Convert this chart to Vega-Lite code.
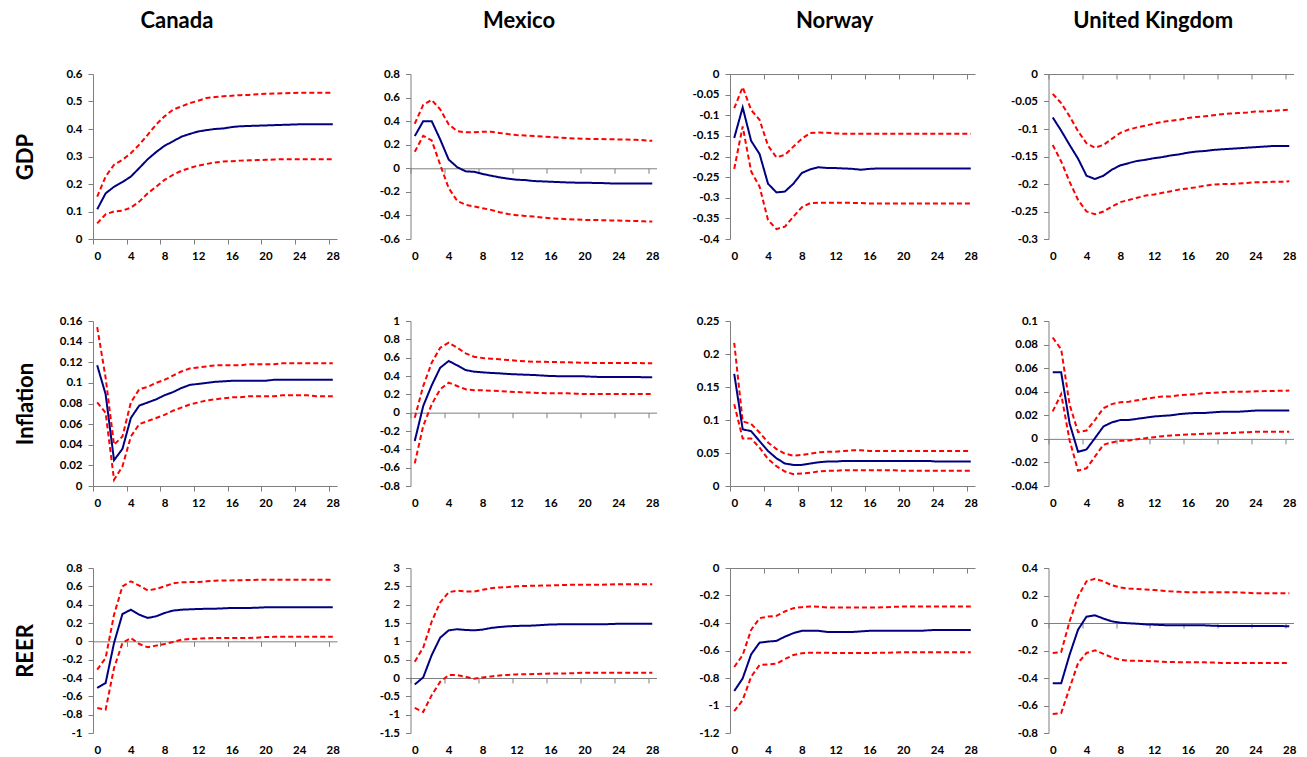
{
"$schema": "https://vega.github.io/schema/vega-lite/v6.json",
"padding": {"left": 14, "top": 10, "right": 5, "bottom": 3},
"background": "white",
"columns": 4,
"bounds": "flush",
"align": "each",
"spacing": {"row": 82, "column": 73.5},
"config": {
 "view": {"stroke": null},
 "axis": {"grid": false, "domainColor": "#7f7f7f", "tickColor": "#7f7f7f", "tickSize": 5, "domainWidth": 1, "tickWidth": 1, "labelFont": "Lato", "labelFontWeight": "bold", "labelFontSize": 11.5, "labelColor": "#000000", "labelOverlap": false, "titleFont": "Lato", "titleFontWeight": "bold", "titleFontSize": 22, "titleColor": "#000000"},
 "axisX": {"labelFlush": false},
 "axisY": {"labelPadding": 6},
 "title": {"font": "Lato", "fontSize": 22, "fontWeight": "bold", "color": "#000000", "anchor": "middle", "frame": "bounds", "baseline": "alphabetic", "offset": 35}
},
"datasets": {
"CA_G": [
{"h":0,"irf":0.108,"lo":0.057,"hi":0.154},{"h":1,"irf":0.166,"lo":0.09,"hi":0.227},{"h":2,"irf":0.19,"lo":0.1,"hi":0.27},{"h":3,"irf":0.207,"lo":0.103,"hi":0.288},{"h":4,"irf":0.227,"lo":0.114,"hi":0.312},{"h":5,"irf":0.258,"lo":0.136,"hi":0.343},{"h":6,"irf":0.29,"lo":0.166,"hi":0.379},{"h":7,"irf":0.316,"lo":0.19,"hi":0.416},{"h":8,"irf":0.339,"lo":0.215,"hi":0.446},{"h":9,"irf":0.355,"lo":0.233,"hi":0.47},{"h":10,"irf":0.372,"lo":0.248,"hi":0.482},{"h":11,"irf":0.382,"lo":0.258,"hi":0.494},{"h":12,"irf":0.391,"lo":0.267,"hi":0.503},{"h":13,"irf":0.396,"lo":0.273,"hi":0.513},{"h":14,"irf":0.4,"lo":0.278,"hi":0.516},{"h":15,"irf":0.402,"lo":0.282,"hi":0.519},{"h":16,"irf":0.407,"lo":0.283,"hi":0.521},{"h":17,"irf":0.41,"lo":0.285,"hi":0.523},{"h":18,"irf":0.411,"lo":0.286,"hi":0.524},{"h":19,"irf":0.412,"lo":0.287,"hi":0.526},{"h":20,"irf":0.413,"lo":0.288,"hi":0.528},{"h":21,"irf":0.414,"lo":0.289,"hi":0.529},{"h":22,"irf":0.415,"lo":0.29,"hi":0.53},{"h":23,"irf":0.416,"lo":0.29,"hi":0.531},{"h":24,"irf":0.417,"lo":0.29,"hi":0.532},{"h":25,"irf":0.417,"lo":0.29,"hi":0.532},{"h":26,"irf":0.417,"lo":0.29,"hi":0.532},{"h":27,"irf":0.417,"lo":0.29,"hi":0.532},{"h":28,"irf":0.417,"lo":0.29,"hi":0.532}],
"MX_G": [
{"h":0,"irf":0.273,"lo":0.14,"hi":0.378},{"h":1,"irf":0.4,"lo":0.276,"hi":0.538},{"h":2,"irf":0.4,"lo":0.236,"hi":0.58},{"h":3,"irf":0.245,"lo":0.03,"hi":0.5},{"h":4,"irf":0.074,"lo":-0.168,"hi":0.373},{"h":5,"irf":0.01,"lo":-0.276,"hi":0.316},{"h":6,"irf":-0.026,"lo":-0.31,"hi":0.305},{"h":7,"irf":-0.03,"lo":-0.324,"hi":0.305},{"h":8,"irf":-0.048,"lo":-0.339,"hi":0.31},{"h":9,"irf":-0.063,"lo":-0.353,"hi":0.31},{"h":10,"irf":-0.077,"lo":-0.373,"hi":0.3},{"h":11,"irf":-0.088,"lo":-0.387,"hi":0.29},{"h":12,"irf":-0.097,"lo":-0.398,"hi":0.282},{"h":13,"irf":-0.1,"lo":-0.404,"hi":0.278},{"h":14,"irf":-0.108,"lo":-0.41,"hi":0.273},{"h":15,"irf":-0.111,"lo":-0.417,"hi":0.269},{"h":16,"irf":-0.114,"lo":-0.424,"hi":0.265},{"h":17,"irf":-0.117,"lo":-0.428,"hi":0.26},{"h":18,"irf":-0.12,"lo":-0.432,"hi":0.256},{"h":19,"irf":-0.122,"lo":-0.435,"hi":0.253},{"h":20,"irf":-0.122,"lo":-0.438,"hi":0.25},{"h":21,"irf":-0.124,"lo":-0.439,"hi":0.249},{"h":22,"irf":-0.125,"lo":-0.44,"hi":0.248},{"h":23,"irf":-0.128,"lo":-0.442,"hi":0.246},{"h":24,"irf":-0.13,"lo":-0.444,"hi":0.245},{"h":25,"irf":-0.13,"lo":-0.446,"hi":0.244},{"h":26,"irf":-0.13,"lo":-0.447,"hi":0.242},{"h":27,"irf":-0.13,"lo":-0.45,"hi":0.238},{"h":28,"irf":-0.13,"lo":-0.452,"hi":0.233}],
"NO_G": [
{"h":0,"irf":-0.155,"lo":-0.23,"hi":-0.083},{"h":1,"irf":-0.081,"lo":-0.127,"hi":-0.032},{"h":2,"irf":-0.162,"lo":-0.236,"hi":-0.087},{"h":3,"irf":-0.194,"lo":-0.273,"hi":-0.111},{"h":4,"irf":-0.266,"lo":-0.354,"hi":-0.174},{"h":5,"irf":-0.287,"lo":-0.376,"hi":-0.202},{"h":6,"irf":-0.285,"lo":-0.37,"hi":-0.196},{"h":7,"irf":-0.266,"lo":-0.346,"hi":-0.176},{"h":8,"irf":-0.24,"lo":-0.323,"hi":-0.157},{"h":9,"irf":-0.231,"lo":-0.313,"hi":-0.143},{"h":10,"irf":-0.226,"lo":-0.312,"hi":-0.142},{"h":11,"irf":-0.228,"lo":-0.312,"hi":-0.1425},{"h":12,"irf":-0.228,"lo":-0.312,"hi":-0.144},{"h":13,"irf":-0.229,"lo":-0.312,"hi":-0.145},{"h":14,"irf":-0.23,"lo":-0.3125,"hi":-0.145},{"h":15,"irf":-0.232,"lo":-0.313,"hi":-0.145},{"h":16,"irf":-0.23,"lo":-0.314,"hi":-0.145},{"h":17,"irf":-0.229,"lo":-0.314,"hi":-0.145},{"h":18,"irf":-0.229,"lo":-0.314,"hi":-0.145},{"h":19,"irf":-0.229,"lo":-0.314,"hi":-0.145},{"h":20,"irf":-0.229,"lo":-0.314,"hi":-0.145},{"h":21,"irf":-0.229,"lo":-0.314,"hi":-0.145},{"h":22,"irf":-0.229,"lo":-0.314,"hi":-0.145},{"h":23,"irf":-0.229,"lo":-0.314,"hi":-0.145},{"h":24,"irf":-0.229,"lo":-0.314,"hi":-0.145},{"h":25,"irf":-0.229,"lo":-0.314,"hi":-0.145},{"h":26,"irf":-0.229,"lo":-0.314,"hi":-0.145},{"h":27,"irf":-0.229,"lo":-0.314,"hi":-0.145},{"h":28,"irf":-0.229,"lo":-0.314,"hi":-0.145}],
"UK_G": [
{"h":0,"irf":-0.079,"lo":-0.129,"hi":-0.036},{"h":1,"irf":-0.103,"lo":-0.159,"hi":-0.053},{"h":2,"irf":-0.129,"lo":-0.196,"hi":-0.077},{"h":3,"irf":-0.154,"lo":-0.229,"hi":-0.104},{"h":4,"irf":-0.185,"lo":-0.25,"hi":-0.126},{"h":5,"irf":-0.191,"lo":-0.255,"hi":-0.134},{"h":6,"irf":-0.185,"lo":-0.25,"hi":-0.129},{"h":7,"irf":-0.174,"lo":-0.241,"hi":-0.118},{"h":8,"irf":-0.166,"lo":-0.233,"hi":-0.107},{"h":9,"irf":-0.162,"lo":-0.229,"hi":-0.101},{"h":10,"irf":-0.158,"lo":-0.225,"hi":-0.097},{"h":11,"irf":-0.156,"lo":-0.221,"hi":-0.094},{"h":12,"irf":-0.153,"lo":-0.219,"hi":-0.09},{"h":13,"irf":-0.151,"lo":-0.216,"hi":-0.087},{"h":14,"irf":-0.148,"lo":-0.213,"hi":-0.085},{"h":15,"irf":-0.146,"lo":-0.21,"hi":-0.083},{"h":16,"irf":-0.143,"lo":-0.208,"hi":-0.08},{"h":17,"irf":-0.141,"lo":-0.206,"hi":-0.078},{"h":18,"irf":-0.14,"lo":-0.203,"hi":-0.077},{"h":19,"irf":-0.138,"lo":-0.201,"hi":-0.075},{"h":20,"irf":-0.137,"lo":-0.2,"hi":-0.073},{"h":21,"irf":-0.136,"lo":-0.2,"hi":-0.072},{"h":22,"irf":-0.135,"lo":-0.199,"hi":-0.071},{"h":23,"irf":-0.134,"lo":-0.198,"hi":-0.07},{"h":24,"irf":-0.133,"lo":-0.197,"hi":-0.068},{"h":25,"irf":-0.132,"lo":-0.197,"hi":-0.068},{"h":26,"irf":-0.131,"lo":-0.196,"hi":-0.067},{"h":27,"irf":-0.131,"lo":-0.196,"hi":-0.066},{"h":28,"irf":-0.131,"lo":-0.195,"hi":-0.065}],
"CA_I": [
{"h":0,"irf":0.117,"lo":0.081,"hi":0.154},{"h":1,"irf":0.089,"lo":0.071,"hi":0.105},{"h":2,"irf":0.025,"lo":0.006,"hi":0.04},{"h":3,"irf":0.036,"lo":0.019,"hi":0.048},{"h":4,"irf":0.066,"lo":0.048,"hi":0.081},{"h":5,"irf":0.078,"lo":0.06,"hi":0.094},{"h":6,"irf":0.081,"lo":0.063,"hi":0.096},{"h":7,"irf":0.084,"lo":0.066,"hi":0.1},{"h":8,"irf":0.088,"lo":0.069,"hi":0.103},{"h":9,"irf":0.091,"lo":0.073,"hi":0.107},{"h":10,"irf":0.095,"lo":0.076,"hi":0.111},{"h":11,"irf":0.098,"lo":0.079,"hi":0.114},{"h":12,"irf":0.099,"lo":0.081,"hi":0.115},{"h":13,"irf":0.1,"lo":0.083,"hi":0.116},{"h":14,"irf":0.101,"lo":0.084,"hi":0.117},{"h":15,"irf":0.1015,"lo":0.085,"hi":0.117},{"h":16,"irf":0.102,"lo":0.086,"hi":0.117},{"h":17,"irf":0.102,"lo":0.086,"hi":0.117},{"h":18,"irf":0.102,"lo":0.087,"hi":0.118},{"h":19,"irf":0.102,"lo":0.087,"hi":0.118},{"h":20,"irf":0.102,"lo":0.087,"hi":0.118},{"h":21,"irf":0.103,"lo":0.087,"hi":0.118},{"h":22,"irf":0.103,"lo":0.088,"hi":0.119},{"h":23,"irf":0.103,"lo":0.088,"hi":0.119},{"h":24,"irf":0.103,"lo":0.088,"hi":0.119},{"h":25,"irf":0.103,"lo":0.088,"hi":0.119},{"h":26,"irf":0.103,"lo":0.087,"hi":0.119},{"h":27,"irf":0.103,"lo":0.087,"hi":0.119},{"h":28,"irf":0.103,"lo":0.087,"hi":0.119}],
"MX_I": [
{"h":0,"irf":-0.309,"lo":-0.553,"hi":-0.055},{"h":1,"irf":0.073,"lo":-0.145,"hi":0.29},{"h":2,"irf":0.298,"lo":0.091,"hi":0.545},{"h":3,"irf":0.49,"lo":0.255,"hi":0.709},{"h":4,"irf":0.564,"lo":0.327,"hi":0.764},{"h":5,"irf":0.516,"lo":0.291,"hi":0.709},{"h":6,"irf":0.465,"lo":0.255,"hi":0.647},{"h":7,"irf":0.447,"lo":0.244,"hi":0.611},{"h":8,"irf":0.44,"lo":0.244,"hi":0.596},{"h":9,"irf":0.433,"lo":0.24,"hi":0.589},{"h":10,"irf":0.429,"lo":0.236,"hi":0.582},{"h":11,"irf":0.422,"lo":0.23,"hi":0.575},{"h":12,"irf":0.418,"lo":0.225,"hi":0.567},{"h":13,"irf":0.414,"lo":0.22,"hi":0.56},{"h":14,"irf":0.411,"lo":0.218,"hi":0.556},{"h":15,"irf":0.405,"lo":0.214,"hi":0.555},{"h":16,"irf":0.4,"lo":0.211,"hi":0.553},{"h":17,"irf":0.398,"lo":0.211,"hi":0.551},{"h":18,"irf":0.396,"lo":0.211,"hi":0.549},{"h":19,"irf":0.396,"lo":0.207,"hi":0.547},{"h":20,"irf":0.396,"lo":0.204,"hi":0.545},{"h":21,"irf":0.392,"lo":0.204,"hi":0.543},{"h":22,"irf":0.389,"lo":0.204,"hi":0.542},{"h":23,"irf":0.389,"lo":0.204,"hi":0.542},{"h":24,"irf":0.389,"lo":0.204,"hi":0.542},{"h":25,"irf":0.389,"lo":0.204,"hi":0.542},{"h":26,"irf":0.389,"lo":0.204,"hi":0.542},{"h":27,"irf":0.387,"lo":0.204,"hi":0.54},{"h":28,"irf":0.385,"lo":0.204,"hi":0.538}],
"NO_I": [
{"h":0,"irf":0.17,"lo":0.124,"hi":0.217},{"h":1,"irf":0.086,"lo":0.072,"hi":0.098},{"h":2,"irf":0.083,"lo":0.072,"hi":0.094},{"h":3,"irf":0.068,"lo":0.058,"hi":0.081},{"h":4,"irf":0.053,"lo":0.041,"hi":0.066},{"h":5,"irf":0.042,"lo":0.03,"hi":0.056},{"h":6,"irf":0.034,"lo":0.022,"hi":0.049},{"h":7,"irf":0.032,"lo":0.018,"hi":0.046},{"h":8,"irf":0.032,"lo":0.019,"hi":0.047},{"h":9,"irf":0.034,"lo":0.02,"hi":0.049},{"h":10,"irf":0.036,"lo":0.022,"hi":0.051},{"h":11,"irf":0.037,"lo":0.023,"hi":0.052},{"h":12,"irf":0.037,"lo":0.023,"hi":0.052},{"h":13,"irf":0.038,"lo":0.024,"hi":0.053},{"h":14,"irf":0.038,"lo":0.024,"hi":0.054},{"h":15,"irf":0.038,"lo":0.024,"hi":0.054},{"h":16,"irf":0.038,"lo":0.024,"hi":0.053},{"h":17,"irf":0.038,"lo":0.024,"hi":0.053},{"h":18,"irf":0.038,"lo":0.024,"hi":0.053},{"h":19,"irf":0.038,"lo":0.024,"hi":0.053},{"h":20,"irf":0.038,"lo":0.023,"hi":0.053},{"h":21,"irf":0.038,"lo":0.023,"hi":0.053},{"h":22,"irf":0.038,"lo":0.023,"hi":0.053},{"h":23,"irf":0.038,"lo":0.023,"hi":0.053},{"h":24,"irf":0.037,"lo":0.023,"hi":0.053},{"h":25,"irf":0.037,"lo":0.023,"hi":0.053},{"h":26,"irf":0.037,"lo":0.023,"hi":0.053},{"h":27,"irf":0.037,"lo":0.023,"hi":0.053},{"h":28,"irf":0.037,"lo":0.023,"hi":0.053}],
"UK_I": [
{"h":0,"irf":0.0565,"lo":0.0233,"hi":0.086},{"h":1,"irf":0.0565,"lo":0.038,"hi":0.076},{"h":2,"irf":0.013,"lo":-0.0014,"hi":0.029},{"h":3,"irf":-0.011,"lo":-0.027,"hi":0.0057},{"h":4,"irf":-0.009,"lo":-0.025,"hi":0.007},{"h":5,"irf":0.0006,"lo":-0.015,"hi":0.016},{"h":6,"irf":0.0105,"lo":-0.005,"hi":0.026},{"h":7,"irf":0.014,"lo":-0.003,"hi":0.0295},{"h":8,"irf":0.016,"lo":-0.0017,"hi":0.031},{"h":9,"irf":0.016,"lo":-0.0014,"hi":0.0315},{"h":10,"irf":0.017,"lo":-0.0003,"hi":0.0327},{"h":11,"irf":0.018,"lo":0.0006,"hi":0.034},{"h":12,"irf":0.019,"lo":0.0014,"hi":0.035},{"h":13,"irf":0.0195,"lo":0.0023,"hi":0.036},{"h":14,"irf":0.02,"lo":0.0028,"hi":0.036},{"h":15,"irf":0.021,"lo":0.0033,"hi":0.037},{"h":16,"irf":0.0216,"lo":0.0037,"hi":0.0375},{"h":17,"irf":0.022,"lo":0.004,"hi":0.038},{"h":18,"irf":0.022,"lo":0.0043,"hi":0.039},{"h":19,"irf":0.0225,"lo":0.0045,"hi":0.039},{"h":20,"irf":0.023,"lo":0.0048,"hi":0.0395},{"h":21,"irf":0.023,"lo":0.005,"hi":0.04},{"h":22,"irf":0.023,"lo":0.0054,"hi":0.04},{"h":23,"irf":0.0235,"lo":0.0057,"hi":0.04},{"h":24,"irf":0.024,"lo":0.006,"hi":0.0403},{"h":25,"irf":0.024,"lo":0.006,"hi":0.0405},{"h":26,"irf":0.024,"lo":0.006,"hi":0.0406},{"h":27,"irf":0.024,"lo":0.006,"hi":0.0408},{"h":28,"irf":0.024,"lo":0.006,"hi":0.041}],
"CA_R": [
{"h":0,"irf":-0.509,"lo":-0.727,"hi":-0.309},{"h":1,"irf":-0.455,"lo":-0.745,"hi":-0.182},{"h":2,"irf":-0.018,"lo":-0.291,"hi":0.291},{"h":3,"irf":0.298,"lo":-0.018,"hi":0.6},{"h":4,"irf":0.345,"lo":0.036,"hi":0.655},{"h":5,"irf":0.291,"lo":-0.029,"hi":0.607},{"h":6,"irf":0.255,"lo":-0.065,"hi":0.556},{"h":7,"irf":0.273,"lo":-0.047,"hi":0.571},{"h":8,"irf":0.309,"lo":-0.029,"hi":0.6},{"h":9,"irf":0.335,"lo":-0.007,"hi":0.633},{"h":10,"irf":0.345,"lo":0.018,"hi":0.644},{"h":11,"irf":0.349,"lo":0.025,"hi":0.647},{"h":12,"irf":0.353,"lo":0.029,"hi":0.647},{"h":13,"irf":0.355,"lo":0.033,"hi":0.655},{"h":14,"irf":0.356,"lo":0.036,"hi":0.662},{"h":15,"irf":0.36,"lo":0.036,"hi":0.664},{"h":16,"irf":0.364,"lo":0.036,"hi":0.665},{"h":17,"irf":0.364,"lo":0.036,"hi":0.667},{"h":18,"irf":0.364,"lo":0.036,"hi":0.669},{"h":19,"irf":0.367,"lo":0.04,"hi":0.671},{"h":20,"irf":0.371,"lo":0.047,"hi":0.673},{"h":21,"irf":0.371,"lo":0.049,"hi":0.673},{"h":22,"irf":0.371,"lo":0.051,"hi":0.673},{"h":23,"irf":0.371,"lo":0.051,"hi":0.673},{"h":24,"irf":0.371,"lo":0.051,"hi":0.673},{"h":25,"irf":0.371,"lo":0.051,"hi":0.673},{"h":26,"irf":0.371,"lo":0.051,"hi":0.673},{"h":27,"irf":0.371,"lo":0.051,"hi":0.673},{"h":28,"irf":0.371,"lo":0.051,"hi":0.673}],
"MX_R": [
{"h":0,"irf":-0.176,"lo":-0.815,"hi":0.444},{"h":1,"irf":0.016,"lo":-0.925,"hi":0.83},{"h":2,"irf":0.625,"lo":-0.468,"hi":1.54},{"h":3,"irf":1.1,"lo":-0.103,"hi":2.06},{"h":4,"irf":1.3,"lo":0.079,"hi":2.34},{"h":5,"irf":1.33,"lo":0.079,"hi":2.38},{"h":6,"irf":1.31,"lo":0.034,"hi":2.36},{"h":7,"irf":1.3,"lo":-0.021,"hi":2.36},{"h":8,"irf":1.32,"lo":0.016,"hi":2.405},{"h":9,"irf":1.365,"lo":0.043,"hi":2.45},{"h":10,"irf":1.39,"lo":0.07,"hi":2.47},{"h":11,"irf":1.41,"lo":0.085,"hi":2.48},{"h":12,"irf":1.42,"lo":0.098,"hi":2.5},{"h":13,"irf":1.425,"lo":0.103,"hi":2.51},{"h":14,"irf":1.43,"lo":0.107,"hi":2.515},{"h":15,"irf":1.445,"lo":0.115,"hi":2.52},{"h":16,"irf":1.46,"lo":0.125,"hi":2.525},{"h":17,"irf":1.463,"lo":0.125,"hi":2.53},{"h":18,"irf":1.466,"lo":0.125,"hi":2.54},{"h":19,"irf":1.466,"lo":0.134,"hi":2.54},{"h":20,"irf":1.466,"lo":0.143,"hi":2.54},{"h":21,"irf":1.466,"lo":0.143,"hi":2.54},{"h":22,"irf":1.466,"lo":0.143,"hi":2.54},{"h":23,"irf":1.47,"lo":0.143,"hi":2.55},{"h":24,"irf":1.48,"lo":0.143,"hi":2.56},{"h":25,"irf":1.48,"lo":0.143,"hi":2.56},{"h":26,"irf":1.48,"lo":0.143,"hi":2.56},{"h":27,"irf":1.48,"lo":0.143,"hi":2.56},{"h":28,"irf":1.48,"lo":0.143,"hi":2.56}],
"NO_R": [
{"h":0,"irf":-0.895,"lo":-1.041,"hi":-0.72},{"h":1,"irf":-0.803,"lo":-0.961,"hi":-0.633},{"h":2,"irf":-0.628,"lo":-0.791,"hi":-0.45},{"h":3,"irf":-0.543,"lo":-0.706,"hi":-0.365},{"h":4,"irf":-0.535,"lo":-0.701,"hi":-0.353},{"h":5,"irf":-0.53,"lo":-0.696,"hi":-0.348},{"h":6,"irf":-0.499,"lo":-0.662,"hi":-0.316},{"h":7,"irf":-0.474,"lo":-0.633,"hi":-0.292},{"h":8,"irf":-0.457,"lo":-0.62,"hi":-0.285},{"h":9,"irf":-0.457,"lo":-0.616,"hi":-0.28},{"h":10,"irf":-0.457,"lo":-0.616,"hi":-0.282},{"h":11,"irf":-0.465,"lo":-0.617,"hi":-0.287},{"h":12,"irf":-0.465,"lo":-0.618,"hi":-0.287},{"h":13,"irf":-0.465,"lo":-0.618,"hi":-0.287},{"h":14,"irf":-0.465,"lo":-0.618,"hi":-0.287},{"h":15,"irf":-0.461,"lo":-0.618,"hi":-0.287},{"h":16,"irf":-0.457,"lo":-0.618,"hi":-0.287},{"h":17,"irf":-0.457,"lo":-0.617,"hi":-0.287},{"h":18,"irf":-0.457,"lo":-0.616,"hi":-0.285},{"h":19,"irf":-0.457,"lo":-0.614,"hi":-0.282},{"h":20,"irf":-0.457,"lo":-0.613,"hi":-0.28},{"h":21,"irf":-0.457,"lo":-0.613,"hi":-0.28},{"h":22,"irf":-0.457,"lo":-0.613,"hi":-0.28},{"h":23,"irf":-0.453,"lo":-0.613,"hi":-0.28},{"h":24,"irf":-0.45,"lo":-0.613,"hi":-0.28},{"h":25,"irf":-0.45,"lo":-0.613,"hi":-0.28},{"h":26,"irf":-0.45,"lo":-0.613,"hi":-0.28},{"h":27,"irf":-0.45,"lo":-0.613,"hi":-0.28},{"h":28,"irf":-0.45,"lo":-0.613,"hi":-0.28}],
"UK_R": [
{"h":0,"irf":-0.439,"lo":-0.662,"hi":-0.218},{"h":1,"irf":-0.439,"lo":-0.655,"hi":-0.211},{"h":2,"irf":-0.23,"lo":-0.473,"hi":0.012},{"h":3,"irf":-0.048,"lo":-0.291,"hi":0.194},{"h":4,"irf":0.046,"lo":-0.218,"hi":0.303},{"h":5,"irf":0.056,"lo":-0.199,"hi":0.322},{"h":6,"irf":0.032,"lo":-0.225,"hi":0.303},{"h":7,"irf":0.012,"lo":-0.25,"hi":0.274},{"h":8,"irf":0.002,"lo":-0.267,"hi":0.259},{"h":9,"irf":-0.002,"lo":-0.274,"hi":0.25},{"h":10,"irf":-0.005,"lo":-0.274,"hi":0.247},{"h":11,"irf":-0.01,"lo":-0.277,"hi":0.244},{"h":12,"irf":-0.012,"lo":-0.279,"hi":0.24},{"h":13,"irf":-0.015,"lo":-0.282,"hi":0.235},{"h":14,"irf":-0.017,"lo":-0.284,"hi":0.23},{"h":15,"irf":-0.017,"lo":-0.285,"hi":0.227},{"h":16,"irf":-0.017,"lo":-0.286,"hi":0.223},{"h":17,"irf":-0.017,"lo":-0.286,"hi":0.223},{"h":18,"irf":-0.017,"lo":-0.286,"hi":0.223},{"h":19,"irf":-0.02,"lo":-0.288,"hi":0.223},{"h":20,"irf":-0.022,"lo":-0.291,"hi":0.223},{"h":21,"irf":-0.022,"lo":-0.291,"hi":0.223},{"h":22,"irf":-0.022,"lo":-0.291,"hi":0.223},{"h":23,"irf":-0.022,"lo":-0.291,"hi":0.22},{"h":24,"irf":-0.022,"lo":-0.291,"hi":0.216},{"h":25,"irf":-0.022,"lo":-0.291,"hi":0.216},{"h":26,"irf":-0.022,"lo":-0.291,"hi":0.216},{"h":27,"irf":-0.022,"lo":-0.291,"hi":0.216},{"h":28,"irf":-0.024,"lo":-0.291,"hi":0.216}]
},
"concat": [
{"width": 244, "height": 165, "data": {"name": "CA_G"}, "title": {"text": "Canada"},
 "transform": [{"fold": ["hi","lo","irf"], "as": ["series","val"]}],
 "mark": {"type": "line", "strokeWidth": 2},
 "encoding": {
  "x": {"field": "h", "type": "quantitative", "title": null, "scale": {"domain": [-0.5, 28.5], "nice": false, "zero": false}, "axis": {"values": [0,4,8,12,16,20,24,28], "tickOffset": -4.207, "labelOffset": 4.207, "offset": 0, "labelPadding": 6}},
  "y": {"field": "val", "type": "quantitative", "scale": {"domain": [0, 0.6], "nice": false, "zero": false}, "axis": {"values": [0,0.1,0.2,0.3,0.4,0.5,0.6], "labelExpr": "'' + datum.value", "title": "GDP", "titleX": -67.7, "titleY": 82.5, "titleAngle": 270, "titleAlign": "center", "titleBaseline": "middle"}},
  "color": {"field": "series", "type": "nominal", "scale": {"domain": ["hi","lo","irf"], "range": ["#FF0000","#FF0000","#000080"]}, "legend": null},
  "strokeDash": {"field": "series", "type": "nominal", "scale": {"domain": ["hi","lo","irf"], "range": [[5,3],[5,3],[1,0]]}, "legend": null}
 }},
{"width": 246, "height": 165, "data": {"name": "MX_G"}, "title": {"text": "Mexico"},
 "transform": [{"fold": ["hi","lo","irf"], "as": ["series","val"]}],
 "mark": {"type": "line", "strokeWidth": 2},
 "encoding": {
  "x": {"field": "h", "type": "quantitative", "title": null, "scale": {"domain": [-0.5, 28.5], "nice": false, "zero": false}, "axis": {"values": [0,4,8,12,16,20,24,28], "tickOffset": -4.241, "labelOffset": 4.241, "offset": -70.71, "labelPadding": 76.71}},
  "y": {"field": "val", "type": "quantitative", "title": null, "scale": {"domain": [-0.6, 0.8], "nice": false, "zero": false}, "axis": {"values": [-0.6,-0.4,-0.2,0,0.2,0.4,0.6,0.8], "labelExpr": "'' + datum.value"}},
  "color": {"field": "series", "type": "nominal", "scale": {"domain": ["hi","lo","irf"], "range": ["#FF0000","#FF0000","#000080"]}, "legend": null},
  "strokeDash": {"field": "series", "type": "nominal", "scale": {"domain": ["hi","lo","irf"], "range": [[5,3],[5,3],[1,0]]}, "legend": null}
 }},
{"width": 245, "height": 165, "data": {"name": "NO_G"}, "title": {"text": "Norway"},
 "transform": [{"fold": ["hi","lo","irf"], "as": ["series","val"]}],
 "mark": {"type": "line", "strokeWidth": 2},
 "encoding": {
  "x": {"field": "h", "type": "quantitative", "title": null, "scale": {"domain": [-0.5, 28.5], "nice": false, "zero": false}, "axis": {"values": [0,4,8,12,16,20,24,28], "tickOffset": -4.224, "labelOffset": 4.224, "offset": -165, "labelPadding": 171}},
  "y": {"field": "val", "type": "quantitative", "title": null, "scale": {"domain": [-0.4, 0], "nice": false, "zero": false}, "axis": {"values": [-0.4,-0.35,-0.3,-0.25,-0.2,-0.15,-0.1,-0.05,0], "labelExpr": "'' + datum.value"}},
  "color": {"field": "series", "type": "nominal", "scale": {"domain": ["hi","lo","irf"], "range": ["#FF0000","#FF0000","#000080"]}, "legend": null},
  "strokeDash": {"field": "series", "type": "nominal", "scale": {"domain": ["hi","lo","irf"], "range": [[5,3],[5,3],[1,0]]}, "legend": null}
 }},
{"width": 245, "height": 165, "data": {"name": "UK_G"}, "title": {"text": "United Kingdom"},
 "transform": [{"fold": ["hi","lo","irf"], "as": ["series","val"]}],
 "mark": {"type": "line", "strokeWidth": 2},
 "encoding": {
  "x": {"field": "h", "type": "quantitative", "title": null, "scale": {"domain": [-0.5, 28.5], "nice": false, "zero": false}, "axis": {"values": [0,4,8,12,16,20,24,28], "tickOffset": -4.224, "labelOffset": 4.224, "offset": -165, "labelPadding": 171}},
  "y": {"field": "val", "type": "quantitative", "title": null, "scale": {"domain": [-0.3, 0], "nice": false, "zero": false}, "axis": {"values": [-0.3,-0.25,-0.2,-0.15,-0.1,-0.05,0], "labelExpr": "'' + datum.value"}},
  "color": {"field": "series", "type": "nominal", "scale": {"domain": ["hi","lo","irf"], "range": ["#FF0000","#FF0000","#000080"]}, "legend": null},
  "strokeDash": {"field": "series", "type": "nominal", "scale": {"domain": ["hi","lo","irf"], "range": [[5,3],[5,3],[1,0]]}, "legend": null}
 }},
{"width": 244, "height": 165, "data": {"name": "CA_I"},
 "transform": [{"fold": ["hi","lo","irf"], "as": ["series","val"]}],
 "mark": {"type": "line", "strokeWidth": 2},
 "encoding": {
  "x": {"field": "h", "type": "quantitative", "title": null, "scale": {"domain": [-0.5, 28.5], "nice": false, "zero": false}, "axis": {"values": [0,4,8,12,16,20,24,28], "tickOffset": -4.207, "labelOffset": 4.207, "offset": 0, "labelPadding": 6}},
  "y": {"field": "val", "type": "quantitative", "scale": {"domain": [0, 0.16], "nice": false, "zero": false}, "axis": {"values": [0,0.02,0.04,0.06,0.08,0.1,0.12,0.14,0.16], "labelExpr": "'' + datum.value", "title": "Inflation", "titleX": -67.7, "titleY": 82.5, "titleAngle": 270, "titleAlign": "center", "titleBaseline": "middle"}},
  "color": {"field": "series", "type": "nominal", "scale": {"domain": ["hi","lo","irf"], "range": ["#FF0000","#FF0000","#000080"]}, "legend": null},
  "strokeDash": {"field": "series", "type": "nominal", "scale": {"domain": ["hi","lo","irf"], "range": [[5,3],[5,3],[1,0]]}, "legend": null}
 }},
{"width": 246, "height": 165, "data": {"name": "MX_I"},
 "transform": [{"fold": ["hi","lo","irf"], "as": ["series","val"]}],
 "mark": {"type": "line", "strokeWidth": 2},
 "encoding": {
  "x": {"field": "h", "type": "quantitative", "title": null, "scale": {"domain": [-0.5, 28.5], "nice": false, "zero": false}, "axis": {"values": [0,4,8,12,16,20,24,28], "tickOffset": -4.241, "labelOffset": 4.241, "offset": -73.33, "labelPadding": 79.33}},
  "y": {"field": "val", "type": "quantitative", "title": null, "scale": {"domain": [-0.8, 1], "nice": false, "zero": false}, "axis": {"values": [-0.8,-0.6,-0.4,-0.2,0,0.2,0.4,0.6,0.8,1], "labelExpr": "'' + datum.value"}},
  "color": {"field": "series", "type": "nominal", "scale": {"domain": ["hi","lo","irf"], "range": ["#FF0000","#FF0000","#000080"]}, "legend": null},
  "strokeDash": {"field": "series", "type": "nominal", "scale": {"domain": ["hi","lo","irf"], "range": [[5,3],[5,3],[1,0]]}, "legend": null}
 }},
{"width": 245, "height": 165, "data": {"name": "NO_I"},
 "transform": [{"fold": ["hi","lo","irf"], "as": ["series","val"]}],
 "mark": {"type": "line", "strokeWidth": 2},
 "encoding": {
  "x": {"field": "h", "type": "quantitative", "title": null, "scale": {"domain": [-0.5, 28.5], "nice": false, "zero": false}, "axis": {"values": [0,4,8,12,16,20,24,28], "tickOffset": -4.224, "labelOffset": 4.224, "offset": 0, "labelPadding": 6}},
  "y": {"field": "val", "type": "quantitative", "title": null, "scale": {"domain": [0, 0.25], "nice": false, "zero": false}, "axis": {"values": [0,0.05,0.1,0.15,0.2,0.25], "labelExpr": "'' + datum.value"}},
  "color": {"field": "series", "type": "nominal", "scale": {"domain": ["hi","lo","irf"], "range": ["#FF0000","#FF0000","#000080"]}, "legend": null},
  "strokeDash": {"field": "series", "type": "nominal", "scale": {"domain": ["hi","lo","irf"], "range": [[5,3],[5,3],[1,0]]}, "legend": null}
 }},
{"width": 245, "height": 165, "data": {"name": "UK_I"},
 "transform": [{"fold": ["hi","lo","irf"], "as": ["series","val"]}],
 "mark": {"type": "line", "strokeWidth": 2},
 "encoding": {
  "x": {"field": "h", "type": "quantitative", "title": null, "scale": {"domain": [-0.5, 28.5], "nice": false, "zero": false}, "axis": {"values": [0,4,8,12,16,20,24,28], "tickOffset": -4.224, "labelOffset": 4.224, "offset": -47.14, "labelPadding": 53.14}},
  "y": {"field": "val", "type": "quantitative", "title": null, "scale": {"domain": [-0.04, 0.1], "nice": false, "zero": false}, "axis": {"values": [-0.04,-0.02,0,0.02,0.04,0.06,0.08,0.1], "labelExpr": "'' + datum.value"}},
  "color": {"field": "series", "type": "nominal", "scale": {"domain": ["hi","lo","irf"], "range": ["#FF0000","#FF0000","#000080"]}, "legend": null},
  "strokeDash": {"field": "series", "type": "nominal", "scale": {"domain": ["hi","lo","irf"], "range": [[5,3],[5,3],[1,0]]}, "legend": null}
 }},
{"width": 244, "height": 165, "data": {"name": "CA_R"},
 "transform": [{"fold": ["hi","lo","irf"], "as": ["series","val"]}],
 "mark": {"type": "line", "strokeWidth": 2},
 "encoding": {
  "x": {"field": "h", "type": "quantitative", "title": null, "scale": {"domain": [-0.5, 28.5], "nice": false, "zero": false}, "axis": {"values": [0,4,8,12,16,20,24,28], "tickOffset": -4.207, "labelOffset": 4.207, "offset": -91.67, "labelPadding": 97.67}},
  "y": {"field": "val", "type": "quantitative", "scale": {"domain": [-1, 0.8], "nice": false, "zero": false}, "axis": {"values": [-1,-0.8,-0.6,-0.4,-0.2,0,0.2,0.4,0.6,0.8], "labelExpr": "'' + datum.value", "title": "REER", "titleX": -67.7, "titleY": 82.5, "titleAngle": 270, "titleAlign": "center", "titleBaseline": "middle"}},
  "color": {"field": "series", "type": "nominal", "scale": {"domain": ["hi","lo","irf"], "range": ["#FF0000","#FF0000","#000080"]}, "legend": null},
  "strokeDash": {"field": "series", "type": "nominal", "scale": {"domain": ["hi","lo","irf"], "range": [[5,3],[5,3],[1,0]]}, "legend": null}
 }},
{"width": 246, "height": 165, "data": {"name": "MX_R"},
 "transform": [{"fold": ["hi","lo","irf"], "as": ["series","val"]}],
 "mark": {"type": "line", "strokeWidth": 2},
 "encoding": {
  "x": {"field": "h", "type": "quantitative", "title": null, "scale": {"domain": [-0.5, 28.5], "nice": false, "zero": false}, "axis": {"values": [0,4,8,12,16,20,24,28], "tickOffset": -4.241, "labelOffset": 4.241, "offset": -55, "labelPadding": 61}},
  "y": {"field": "val", "type": "quantitative", "title": null, "scale": {"domain": [-1.5, 3], "nice": false, "zero": false}, "axis": {"values": [-1.5,-1,-0.5,0,0.5,1,1.5,2,2.5,3], "labelExpr": "'' + datum.value"}},
  "color": {"field": "series", "type": "nominal", "scale": {"domain": ["hi","lo","irf"], "range": ["#FF0000","#FF0000","#000080"]}, "legend": null},
  "strokeDash": {"field": "series", "type": "nominal", "scale": {"domain": ["hi","lo","irf"], "range": [[5,3],[5,3],[1,0]]}, "legend": null}
 }},
{"width": 245, "height": 165, "data": {"name": "NO_R"},
 "transform": [{"fold": ["hi","lo","irf"], "as": ["series","val"]}],
 "mark": {"type": "line", "strokeWidth": 2},
 "encoding": {
  "x": {"field": "h", "type": "quantitative", "title": null, "scale": {"domain": [-0.5, 28.5], "nice": false, "zero": false}, "axis": {"values": [0,4,8,12,16,20,24,28], "tickOffset": -4.224, "labelOffset": 4.224, "offset": -165, "labelPadding": 171}},
  "y": {"field": "val", "type": "quantitative", "title": null, "scale": {"domain": [-1.2, 0], "nice": false, "zero": false}, "axis": {"values": [-1.2,-1,-0.8,-0.6,-0.4,-0.2,0], "labelExpr": "'' + datum.value"}},
  "color": {"field": "series", "type": "nominal", "scale": {"domain": ["hi","lo","irf"], "range": ["#FF0000","#FF0000","#000080"]}, "legend": null},
  "strokeDash": {"field": "series", "type": "nominal", "scale": {"domain": ["hi","lo","irf"], "range": [[5,3],[5,3],[1,0]]}, "legend": null}
 }},
{"width": 245, "height": 165, "data": {"name": "UK_R"},
 "transform": [{"fold": ["hi","lo","irf"], "as": ["series","val"]}],
 "mark": {"type": "line", "strokeWidth": 2},
 "encoding": {
  "x": {"field": "h", "type": "quantitative", "title": null, "scale": {"domain": [-0.5, 28.5], "nice": false, "zero": false}, "axis": {"values": [0,4,8,12,16,20,24,28], "tickOffset": -4.224, "labelOffset": 4.224, "offset": -110, "labelPadding": 116}},
  "y": {"field": "val", "type": "quantitative", "title": null, "scale": {"domain": [-0.8, 0.4], "nice": false, "zero": false}, "axis": {"values": [-0.8,-0.6,-0.4,-0.2,0,0.2,0.4], "labelExpr": "'' + datum.value"}},
  "color": {"field": "series", "type": "nominal", "scale": {"domain": ["hi","lo","irf"], "range": ["#FF0000","#FF0000","#000080"]}, "legend": null},
  "strokeDash": {"field": "series", "type": "nominal", "scale": {"domain": ["hi","lo","irf"], "range": [[5,3],[5,3],[1,0]]}, "legend": null}
 }}
]
}
